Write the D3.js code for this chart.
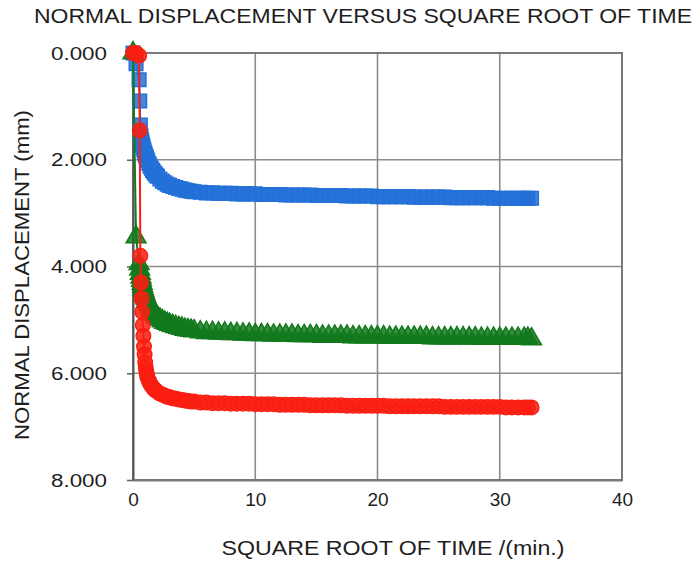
<!DOCTYPE html>
<html>
<head>
<meta charset="utf-8">
<script src="https://cdn.jsdelivr.net/npm/d3@7"></script>
<style>
  html, body { margin: 0; padding: 0; background: #fff; }
  svg { display: block; }
  text { font-family: "Liberation Sans", Arial, sans-serif; fill: #1e1e1e; }
</style>
</head>
<body>
<svg id="chart" width="699" height="562"></svg>
<script>
// Square root of elapsed time, min^0.5 (shared by all three load stages)
const sqrtTime = [
  0, 0.25, 0.5, 0.55, 0.6, 0.65, 0.7, 0.75, 0.8, 0.85, 0.9, 0.95, 1.0, 1.05, 1.1, 1.15, 1.2,
  1.3, 1.4, 1.5, 1.6, 1.7, 1.8, 1.9, 2.0, 2.2, 2.4, 2.6, 2.8, 3.0,
  3.25, 3.5, 3.75, 4.0, 4.25, 4.5, 4.75, 5.0,
  5.5, 6, 6.5, 7, 7.5, 8, 8.5, 9, 9.5, 10,
  10.5, 11, 11.5, 12, 12.5, 13, 13.5, 14, 14.5, 15,
  15.5, 16, 16.5, 17, 17.5, 18, 18.5, 19, 19.5, 20,
  20.5, 21, 21.5, 22, 22.5, 23, 23.5, 24, 24.5, 25,
  25.5, 26, 26.5, 27, 27.5, 28, 28.5, 29, 29.5, 30,
  30.5, 31, 31.5, 32, 32.3, 32.6
];

// Normal displacement, mm
const blueDisp = [
  0, 0.2, 0.5, 0.9, 1.35, 1.55, 1.62, 1.68, 1.73, 1.78, 1.82, 1.86, 1.9, 1.93, 1.96, 1.99, 2.02,
  2.07, 2.12, 2.16, 2.2, 2.23, 2.26, 2.29, 2.31, 2.36, 2.4, 2.43, 2.46, 2.48,
  2.5, 2.52, 2.54, 2.55, 2.57, 2.58, 2.59, 2.6,
  2.61, 2.62, 2.62, 2.63, 2.63, 2.63, 2.64, 2.64, 2.64, 2.64,
  2.65, 2.65, 2.65, 2.65, 2.66, 2.66, 2.66, 2.66, 2.66, 2.67,
  2.67, 2.67, 2.67, 2.67, 2.68, 2.68, 2.68, 2.68, 2.68, 2.69,
  2.69, 2.69, 2.69, 2.69, 2.69, 2.70, 2.70, 2.70, 2.70, 2.70,
  2.70, 2.71, 2.71, 2.71, 2.71, 2.71, 2.71, 2.71, 2.72, 2.72,
  2.72, 2.72, 2.72, 2.72, 2.72, 2.72
];
const greenDisp = [
  0, 3.45, 3.95, 4.05, 4.13, 4.2, 4.26, 4.32, 4.37, 4.42, 4.46, 4.5, 4.54, 4.57, 4.6, 4.63, 4.66,
  4.71, 4.76, 4.8, 4.84, 4.87, 4.9, 4.93, 4.95, 4.99, 5.02, 5.05, 5.07, 5.09,
  5.11, 5.13, 5.15, 5.16, 5.18, 5.19, 5.2, 5.21,
  5.23, 5.24, 5.24, 5.25, 5.25, 5.26, 5.26, 5.27, 5.27, 5.28,
  5.28, 5.28, 5.29, 5.29, 5.29, 5.29, 5.30, 5.30, 5.30, 5.30,
  5.31, 5.31, 5.31, 5.31, 5.31, 5.32, 5.32, 5.32, 5.32, 5.32,
  5.32, 5.33, 5.33, 5.33, 5.33, 5.33, 5.33, 5.33, 5.34, 5.34,
  5.34, 5.34, 5.34, 5.34, 5.34, 5.34, 5.35, 5.35, 5.35, 5.35,
  5.35, 5.35, 5.35, 5.35, 5.35, 5.36
];
const redDisp = [
  0, 0, 0.05, 1.45, 3.8, 4.3, 4.6, 4.85, 5.1, 5.3, 5.5, 5.65, 5.8, 5.9, 5.98, 6.04, 6.08,
  6.14, 6.19, 6.23, 6.26, 6.29, 6.31, 6.33, 6.35, 6.38, 6.4, 6.42, 6.44, 6.45,
  6.47, 6.48, 6.49, 6.5, 6.51, 6.52, 6.53, 6.53,
  6.55, 6.55, 6.56, 6.56, 6.56, 6.57, 6.57, 6.57, 6.57, 6.58,
  6.58, 6.58, 6.58, 6.59, 6.59, 6.59, 6.59, 6.59, 6.60, 6.60,
  6.60, 6.60, 6.60, 6.60, 6.61, 6.61, 6.61, 6.61, 6.61, 6.61,
  6.61, 6.62, 6.62, 6.62, 6.62, 6.62, 6.62, 6.62, 6.62, 6.62,
  6.63, 6.63, 6.63, 6.63, 6.63, 6.63, 6.63, 6.63, 6.63, 6.63,
  6.64, 6.64, 6.64, 6.64, 6.64, 6.64
];

const xTicks = [0, 10, 20, 30, 40];
const yTicks = [0, 2, 4, 6, 8];

const series = [
  { values: blueDisp,  color: "#2370d8", symbol: d3.symbolSquare,   size: 185 },
  { values: greenDisp, color: "#12791c", symbol: d3.symbolTriangle, size: 170 },
  { values: redDisp,   color: "#fa1e12", symbol: d3.symbolCircle,   size: 165 }
];

const svg = d3.select("#chart");
const plotL = 133, plotR = 622, plotT = 53, plotB = 480;

const x = d3.scaleLinear().domain([0, 40]).range([plotL, plotR]);
const y = d3.scaleLinear().domain([0, 8]).range([plotT, plotB]);

// Grid
const grid = svg.append("g").attr("stroke", "#8c8c8c").attr("stroke-width", 1.6);
grid.selectAll("line.v").data(xTicks.slice(1, -1)).join("line")
  .attr("x1", d => x(d)).attr("x2", d => x(d)).attr("y1", plotT).attr("y2", plotB);
grid.selectAll("line.h").data(yTicks.slice(1, -1)).join("line")
  .attr("x1", plotL).attr("x2", plotR).attr("y1", d => y(d)).attr("y2", d => y(d));

// Plot frame
svg.append("rect")
  .attr("x", plotL).attr("y", plotT).attr("width", plotR - plotL).attr("height", plotB - plotT)
  .attr("fill", "none").attr("stroke", "#7a7a7a").attr("stroke-width", 2);

// Y axis (inverted: displacement grows downward)
const yAxis = svg.append("g")
  .attr("transform", `translate(${plotL},0)`)
  .call(d3.axisLeft(y).tickValues(yTicks).tickFormat(d3.format(".3f")).tickSize(6).tickSizeOuter(0).tickPadding(20));
yAxis.select(".domain").attr("stroke", "#555").attr("stroke-width", 2);
yAxis.selectAll(".tick line").attr("stroke", "#666").attr("stroke-width", 1.6);
yAxis.selectAll(".tick text")
  .attr("font-size", 19).attr("fill", "#1e1e1e")
  .attr("textLength", 56).attr("lengthAdjust", "spacingAndGlyphs");

// X axis
const xAxis = svg.append("g")
  .attr("transform", `translate(0,${plotB})`)
  .call(d3.axisBottom(x).tickValues(xTicks).tickFormat(d3.format("d")).tickSize(0).tickPadding(13));
xAxis.select(".domain").attr("stroke", "#777").attr("stroke-width", 2);
xAxis.selectAll(".tick text").attr("font-size", 19).attr("fill", "#1e1e1e");

// Series: connecting line + dense markers
const line = d3.line().x((d, i) => x(sqrtTime[i])).y(d => y(d));
series.forEach(s => {
  const g = svg.append("g");
  g.append("path")
    .attr("d", line(s.values))
    .attr("fill", "none").attr("stroke", s.color).attr("stroke-width", 2);
  g.selectAll("path.mk").data(s.values).join("path")
    .attr("class", "mk")
    .attr("transform", (d, i) => `translate(${x(sqrtTime[i])},${y(d)})`)
    .attr("d", d3.symbol().type(s.symbol).size(s.size))
    .attr("fill", s.color).attr("fill-opacity", 0.85)
    .attr("stroke", s.color).attr("stroke-width", 1.5);
});

// Titles
svg.append("text")
  .attr("x", 363).attr("y", 23).attr("text-anchor", "middle")
  .attr("font-size", 20).attr("textLength", 658).attr("lengthAdjust", "spacingAndGlyphs")
  .text("NORMAL DISPLACEMENT VERSUS SQUARE ROOT OF TIME");

svg.append("text")
  .attr("x", 393).attr("y", 555).attr("text-anchor", "middle")
  .attr("font-size", 20).attr("textLength", 343).attr("lengthAdjust", "spacingAndGlyphs")
  .text("SQUARE ROOT OF TIME /(min.)");

svg.append("text")
  .attr("transform", "translate(29,275) rotate(-90)")
  .attr("text-anchor", "middle")
  .attr("font-size", 20).attr("textLength", 330).attr("lengthAdjust", "spacingAndGlyphs")
  .text("NORMAL DISPLACEMENT (mm)");
</script>
</body>
</html>
